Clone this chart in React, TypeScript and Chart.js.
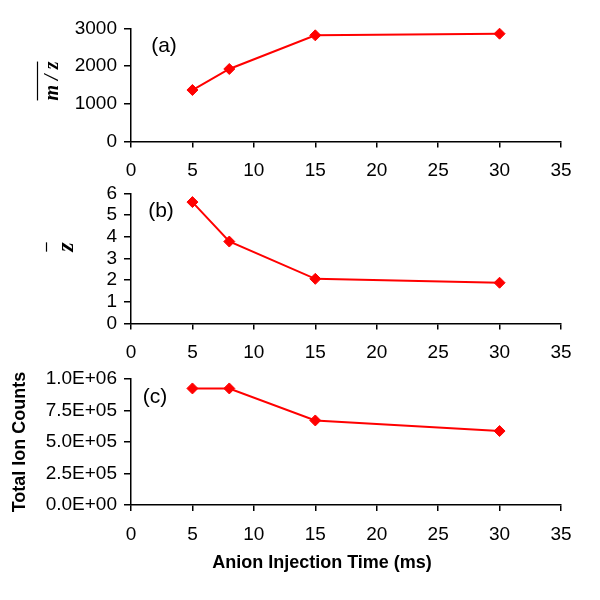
import React, { useEffect, useRef } from 'react';
import { Chart, registerables } from 'chart.js';

Chart.register(...registerables);

// ---- data ----
const injectionTimes = [5, 8, 15, 30];
const meanMz = [1367, 1925, 2819, 2862];
const meanZ = [5.6, 3.78, 2.06, 1.88];
const totalIonCounts = [925000, 925000, 671000, 587000];

const xTickValues = [0, 5, 10, 15, 20, 25, 30, 35];
const mzTickValues = [0, 1000, 2000, 3000];
const zTickValues = [0, 1, 2, 3, 4, 5, 6];
const ticTickValues = [0, 250000, 500000, 750000, 1000000];

const panelLabels = ['(a)', '(b)', '(c)'];
const xAxisTitle = 'Anion Injection Time (ms)';
const mzTitle = 'm / z';
const zTitle = 'z';
const ticTitle = 'Total Ion Counts';

const RED = '#ff0000';
const TICK_FONT = { family: "'Liberation Sans', Arial, sans-serif", size: 19 };

function sciLabel(v: number): string {
  const [m, e] = v.toExponential(1).split('e');
  const sign = e[0] === '-' ? '-' : '+';
  const digits = e.replace(/[+-]/, '').padStart(2, '0');
  return `${m}E${sign}${digits}`;
}

type TextItem = {
  text: string;
  font: string;
  x: number;
  y: number;
  rotate?: boolean;
  align?: CanvasTextAlign;
  baseline?: CanvasTextBaseline;
  overlineX?: number;
};

function textPlugin(items: TextItem[]) {
  return {
    id: 'panelText',
    afterDraw(chart: any) {
      const ctx = chart.ctx as CanvasRenderingContext2D;
      items.forEach((it) => {
        ctx.save();
        ctx.font = it.font;
        ctx.fillStyle = '#000';
        ctx.textAlign = it.align || 'center';
        ctx.textBaseline = it.baseline || 'middle';
        if (it.rotate) {
          ctx.translate(it.x, it.y);
          ctx.rotate(-Math.PI / 2);
          ctx.fillText(it.text, 0, 0);
          ctx.restore();
          if (it.overlineX !== undefined) {
            ctx.save();
            ctx.font = it.font;
            const w = ctx.measureText(it.text).width;
            ctx.strokeStyle = '#000';
            ctx.lineWidth = 1.2;
            ctx.beginPath();
            ctx.moveTo(it.overlineX, it.y - w / 2);
            ctx.lineTo(it.overlineX, it.y + w / 2);
            ctx.stroke();
            ctx.restore();
          }
        } else {
          ctx.fillText(it.text, it.x, it.y);
          ctx.restore();
        }
      });
    },
  };
}

type PanelProps = {
  top: number;
  height: number;
  padTop: number;
  xAxisHeight: number;
  values: number[];
  yTicks: number[];
  yFormat?: (v: number) => string;
  yTitle?: string;
  texts: TextItem[];
};

function Panel(p: PanelProps) {
  const ref = useRef<HTMLCanvasElement | null>(null);
  useEffect(() => {
    if (!ref.current) return;
    const yMin = p.yTicks[0];
    const yMax = p.yTicks[p.yTicks.length - 1];
    const chart = new Chart(ref.current, {
      type: 'line',
      data: {
        datasets: [
          {
            data: injectionTimes.map((x, i) => ({ x, y: p.values[i] })),
            borderColor: RED,
            backgroundColor: RED,
            borderWidth: 2,
            pointStyle: 'rectRot',
            pointRadius: 5.5,
            pointBorderWidth: 1,
            pointBackgroundColor: RED,
            pointBorderColor: RED,
            tension: 0,
            clip: false as any,
          },
        ],
      },
      options: {
        responsive: false,
        animation: false,
        devicePixelRatio: 1,
        layout: { padding: { top: p.padTop, right: 39, left: 0, bottom: 0 } },
        plugins: {
          legend: { display: false },
          tooltip: { enabled: false },
        },
        scales: {
          x: {
            type: 'linear',
            min: xTickValues[0],
            max: xTickValues[xTickValues.length - 1],
            afterBuildTicks: (s: any) => {
              s.ticks = xTickValues.map((v) => ({ value: v }));
            },
            afterFit: (s: any) => {
              s.height = p.xAxisHeight;
            },
            grid: {
              drawOnChartArea: false,
              drawTicks: true,
              tickLength: 6,
              color: '#000',
              lineWidth: 1.5,
            },
            border: { display: true, color: '#000', width: 1.5 },
            ticks: {
              color: '#000',
              font: TICK_FONT,
              padding: 12,
              maxRotation: 0,
              autoSkip: false,
              callback: (v: any) => String(v),
            },
          },
          y: {
            type: 'linear',
            min: yMin,
            max: yMax,
            afterBuildTicks: (s: any) => {
              s.ticks = p.yTicks.map((v) => ({ value: v }));
            },
            afterFit: (s: any) => {
              s.width = 131;
            },
            grid: {
              drawOnChartArea: false,
              drawTicks: true,
              tickLength: 7,
              color: '#000',
              lineWidth: 1.5,
            },
            border: { display: true, color: '#000', width: 1.5 },
            title: p.yTitle
              ? {
                  display: true,
                  text: p.yTitle,
                  color: '#000',
                  font: { family: "'Liberation Sans', Arial, sans-serif", size: 18, weight: 'bold' },
                  padding: { top: 9, bottom: 0 },
                }
              : { display: false },
            ticks: {
              color: '#000',
              font: TICK_FONT,
              padding: 7,
              autoSkip: false,
              callback: (v: any) => (p.yFormat ? p.yFormat(Number(v)) : String(v)),
            },
          },
        },
      } as any,
      plugins: [textPlugin(p.texts)],
    });
    return () => chart.destroy();
  }, []);
  return (
    <canvas
      ref={ref}
      width={600}
      height={p.height}
      style={{ position: 'absolute', left: 0, top: p.top, width: 600, height: p.height }}
    />
  );
}

const LABEL_FONT = "21px 'Liberation Sans', Arial, sans-serif";

export default function App() {
  return (
    <div
      style={{
        position: 'fixed',
        left: 0,
        top: 0,
        width: 600,
        height: 600,
        background: '#fff',
        overflow: 'hidden',
      }}
    >
      <Panel
        top={0}
        height={180}
        padTop={28.5}
        xAxisHeight={38.5}
        values={meanMz}
        yTicks={mzTickValues}
        texts={[
          { text: panelLabels[0], font: LABEL_FONT, x: 164, y: 46 },
          {
            text: mzTitle,
            font: "bold italic 20px 'Liberation Serif', 'Times New Roman', serif",
            x: 58,
            y: 81,
            rotate: true,
            baseline: 'alphabetic',
            overlineX: 37.5,
          },
        ]}
      />
      <Panel
        top={175}
        height={185}
        padTop={14}
        xAxisHeight={36.5}
        values={meanZ}
        yTicks={zTickValues}
        texts={[
          { text: panelLabels[1], font: LABEL_FONT, x: 161, y: 36 },
          {
            text: zTitle,
            font: "bold italic 24px 'Liberation Serif', 'Times New Roman', serif",
            x: 73,
            y: 72,
            rotate: true,
            baseline: 'alphabetic',
            overlineX: 46.5,
          },
        ]}
      />
      <Panel
        top={360}
        height={240}
        padTop={19}
        xAxisHeight={95}
        values={totalIonCounts}
        yTicks={ticTickValues}
        yFormat={sciLabel}
        yTitle={ticTitle}
        texts={[
          { text: panelLabels[2], font: LABEL_FONT, x: 155, y: 37 },
          {
            text: xAxisTitle,
            font: "bold 18px 'Liberation Sans', Arial, sans-serif",
            x: 322,
            y: 203,
          },
        ]}
      />
    </div>
  );
}
